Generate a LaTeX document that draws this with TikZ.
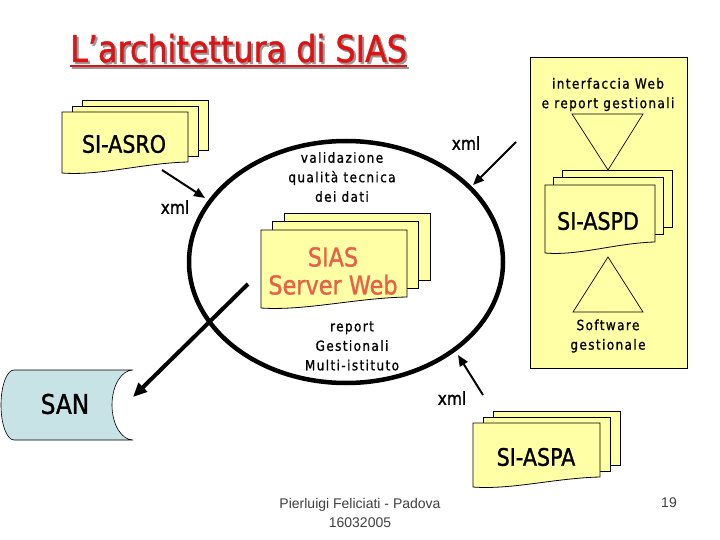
\documentclass[tikz,border=0pt]{standalone}
\usepackage{fontspec}
\setmainfont{DejaVu Sans}[FakeStretch=0.86,FakeBold=1.2]
\newfontfamily\tahsp{DejaVu Sans}[FakeStretch=0.86,LetterSpace=10,FakeBold=1]
\newfontfamily\arialf{Liberation Sans}
\usetikzlibrary{arrows.meta}
\definecolor{docyellow}{RGB}{255,255,165}
\definecolor{sanblue}{RGB}{200,227,230}
\definecolor{titlered}{RGB}{222,20,20}
\definecolor{siasred}{RGB}{232,96,72}
\newcommand\multidoc[7]{%
  \path[doc] ({#1+2*#6},{#2-2*#7}) rectangle ({#3+2*#6},{#4-2*#7});
  \path[doc] ({#1+#6},{#2-#7}) rectangle ({#3+#6},{#4-#7});
  \path[doc] (#1,#2) -- (#3,#2) -- (#3,#4) .. controls ({#3-0.35*(#3-#1)},{#4+1}) and ({#1+0.3*(#3-#1)},{#5+3}) .. (#1,#5) -- cycle;
}
\begin{document}
\begin{tikzpicture}[x=1pt,y=-1pt,
  doc/.style={draw=black, line width=0.8pt, fill=docyellow},
  lbl/.style={font=\tahsp\fontsize{14}{19.5}\selectfont, align=center, inner sep=0},
  doclbl/.style={font=\fontsize{24}{28}\selectfont, inner sep=0},
  xmllbl/.style={font=\fontsize{18}{20}\selectfont, inner sep=0},
  arr/.style={-{Triangle[length=11pt,width=9pt]}, line width=2pt},
  thickarr/.style={-{Triangle[length=14pt,width=12pt]}, line width=4pt}]
\useasboundingbox[fill=white] (0,0) rectangle (720,540);

% title (with its shadow)
\node[anchor=base west, inner sep=0, font=\fontsize{37}{40}\selectfont, text=titlered] (title) at (70,62) {\rlap{\hspace{2pt}\raisebox{-2pt}{\textcolor{black!40}{L’architettura di SIAS}}}L’architettura di SIAS};
\draw[black!40, line width=2.5pt] ([xshift=2pt,yshift=-6pt]title.base west) -- ([xshift=2pt,yshift=-6pt]title.base east);
\draw[titlered, line width=2.5pt] ([yshift=-4pt]title.base west) -- ([yshift=-4pt]title.base east);

% right panel
\path[doc, line width=0.8pt] (530,57) rectangle (687,368);
\node[lbl] (iweb) at (608,94.5) {interfaccia Web\\e report gestionali};
\draw[line width=0.7pt] (572,114) -- (643,114) -- (608,170) -- cycle;
\multidoc{545}{185}{655}{242}{253}{8.5}{7.5}
\node[doclbl] (aspd) at (598,221) {SI-ASPD};
\draw[line width=0.7pt] (608,257) -- (643,312) -- (573,312) -- cycle;
\node[lbl] (sw) at (608,336) {Software\\gestionale};

% SI-ASRO
\multidoc{62}{112}{188}{162}{173}{10}{6}
\node[doclbl] (asro) at (124,144) {SI-ASRO};

% big ellipse
\draw[line width=4.5pt, fill=white] (346,262) circle[x radius=157pt, y radius=121pt];
\node[lbl] (valid) at (342,177) {validazione\\qualità tecnica\\dei dati};
\multidoc{261}{230}{407}{297}{308}{11.5}{8.5}
\node[inner sep=0, align=center, text=siasred, font=\fontsize{26}{28}\selectfont] (sias) at (333,271) {SIAS\\Server Web};
\node[lbl] (rep) at (352,346) {report\\Gestionali\\Multi-istituto};

% SAN
\path[draw=black, line width=0.6pt, fill=sanblue]
  (14,370) -- (133,370)
  .. controls (121.4,370) and (112,385.7) .. (112,405)
  .. controls (112,424.3) and (121.4,440) .. (133,440)
  -- (14,440)
  .. controls (6.8,440) and (1,424.3) .. (1,405)
  .. controls (1,385.7) and (6.8,370) .. (14,370) -- cycle;
\node[inner sep=0, font=\fontsize{27}{30}\selectfont] (san) at (65,404) {SAN};

% SI-ASPA
\multidoc{473}{423}{600}{477}{487}{10}{6}
\node[doclbl] (aspa) at (536,457) {SI-ASPA};

% xml labels
\node[xmllbl] (x1) at (175,207) {xml};
\node[xmllbl] (x2) at (466,143) {xml};
\node[xmllbl] (x3) at (452,398) {xml};

% connectors
\coordinate (a1s) at (162,170); \coordinate (a1e) at (205,198);
\coordinate (a2s) at (516,142); \coordinate (a2e) at (473,185);
\coordinate (a3s) at (248,284); \coordinate (a3e) at (133,397);
\coordinate (a4s) at (483,395); \coordinate (a4e) at (458,355);
\draw[arr] (a1s) -- (a1e);
\draw[arr] (a2s) -- (a2e);
\draw[thickarr] (a3s) -- (a3e);
\draw[arr] (a4s) -- (a4e);

% footer
\node[inner sep=0, align=center, text=black!75, font=\arialf\fontsize{14}{19}\selectfont] (foot) at (360,512.5) {Pierluigi Feliciati - Padova\\16032005};
\node[inner sep=0, text=black!75, font=\arialf\fontsize{14}{19}\selectfont] (pg) at (669,503) {19};
\end{tikzpicture}
\end{document}
